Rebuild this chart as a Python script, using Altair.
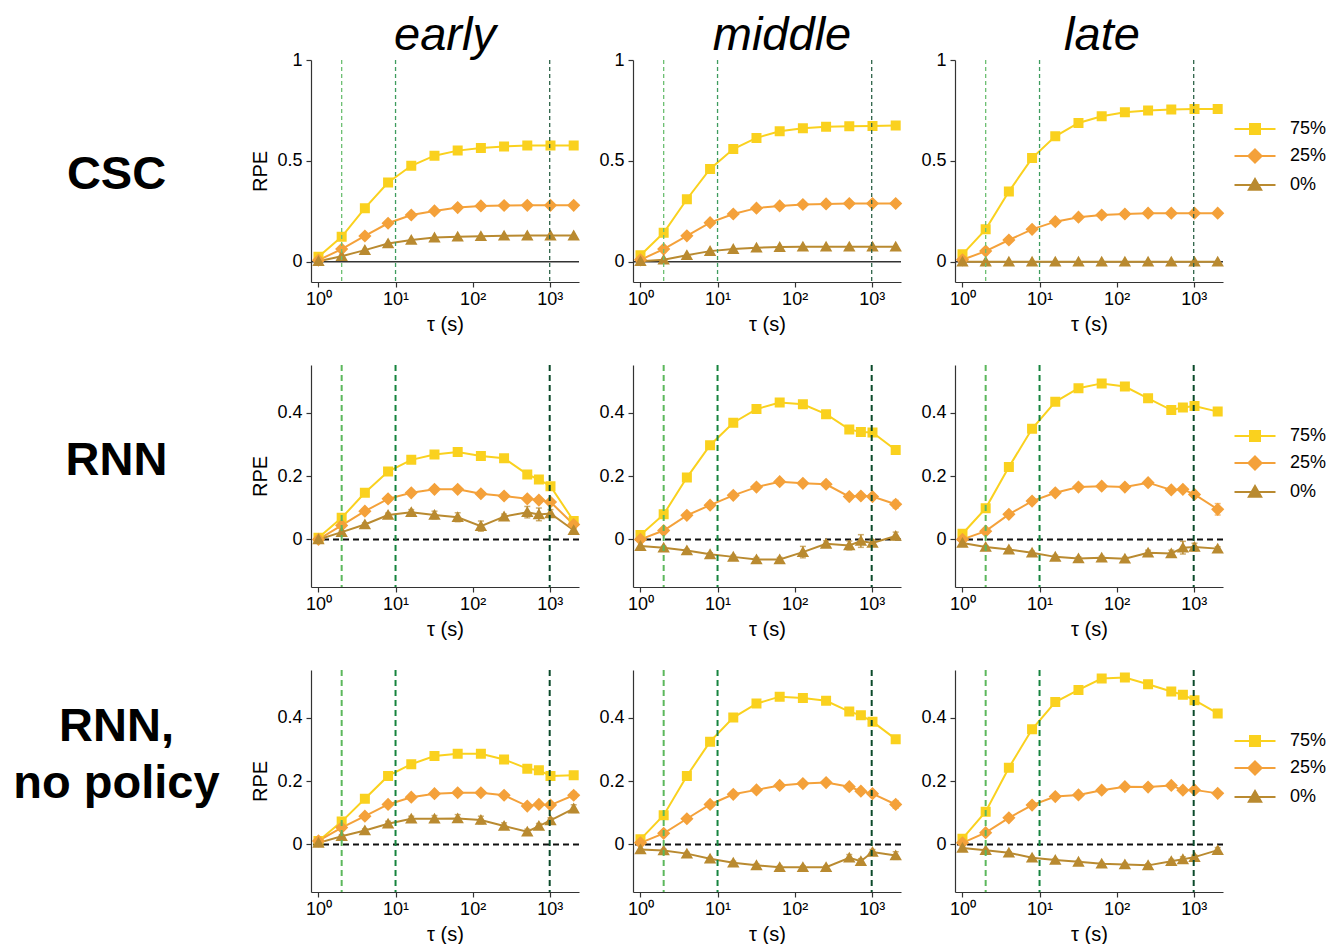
import altair as alt
import pandas as pd

FONT = "Liberation Sans"

TAU_CSC = [1, 2, 4, 8, 16, 32, 64, 128, 256, 512, 1024, 2048]
TAU_RNN = [1, 2, 4, 8, 16, 32, 64, 128, 256, 512, 724, 1024, 2048]
SERIES = ["75%", "25%", "0%"]
COLORS = ["#FAD11E", "#F4A13A", "#B98A30"]
COLUMNS = ["early", "middle", "late"]
ROW_LABELS = ["CSC", "RNN", "RNN,\nno policy"]
VLINE_TAU = [2, 10, 1000]

# ---- CSC row ----
CSC_EARLY_75 = [0.025, 0.124, 0.266, 0.393, 0.476, 0.526, 0.551, 0.564, 0.572, 0.576, 0.576, 0.576]
CSC_EARLY_25 = [0.008, 0.063, 0.128, 0.191, 0.232, 0.252, 0.269, 0.277, 0.279, 0.280, 0.280, 0.280]
CSC_EARLY_0 = [0.003, 0.028, 0.058, 0.091, 0.108, 0.120, 0.124, 0.127, 0.129, 0.130, 0.130, 0.130]
CSC_MIDDLE_75 = [0.033, 0.144, 0.310, 0.460, 0.559, 0.614, 0.647, 0.662, 0.669, 0.672, 0.673, 0.675]
CSC_MIDDLE_25 = [0.010, 0.063, 0.129, 0.194, 0.237, 0.266, 0.277, 0.284, 0.287, 0.289, 0.289, 0.289]
CSC_MIDDLE_0 = [0.003, 0.010, 0.033, 0.053, 0.063, 0.070, 0.073, 0.075, 0.075, 0.075, 0.075, 0.075]
CSC_LATE_75 = [0.037, 0.161, 0.348, 0.514, 0.622, 0.688, 0.721, 0.741, 0.750, 0.755, 0.757, 0.757]
CSC_LATE_25 = [0.010, 0.053, 0.108, 0.161, 0.199, 0.221, 0.232, 0.237, 0.241, 0.241, 0.241, 0.241]
CSC_LATE_0 = [0.0, 0.0, 0.0, 0.0, 0.0, 0.0, 0.0, 0.0, 0.0, 0.0, 0.0, 0.0]

# ---- RNN row ----
RNN_EARLY_75 = [0.005, 0.068, 0.147, 0.214, 0.251, 0.268, 0.276, 0.263, 0.256, 0.205, 0.189, 0.168, 0.058]
RNN_EARLY_25 = [0.000, 0.044, 0.089, 0.128, 0.147, 0.158, 0.158, 0.144, 0.137, 0.128, 0.124, 0.118, 0.047]
RNN_EARLY_0 = [0.000, 0.023, 0.047, 0.077, 0.086, 0.077, 0.070, 0.042, 0.072, 0.086, 0.079, 0.082, 0.029]
RNN_EARLY_0_ERR = [0.0, 0.004, 0.005, 0.006, 0.008, 0.012, 0.014, 0.016, 0.008, 0.018, 0.020, 0.012, 0.006]
RNN_MIDDLE_75 = [0.014, 0.079, 0.195, 0.297, 0.368, 0.411, 0.432, 0.426, 0.395, 0.347, 0.339, 0.337, 0.282]
RNN_MIDDLE_25 = [0.000, 0.028, 0.076, 0.108, 0.139, 0.165, 0.182, 0.177, 0.174, 0.135, 0.137, 0.135, 0.111]
RNN_MIDDLE_25_ERR = [0.0, 0.0, 0.0, 0.0, 0.0, 0.0, 0.0, 0.0, 0.0, 0.006, 0.006, 0.006, 0.012]
RNN_MIDDLE_0 = [-0.021, -0.026, -0.035, -0.047, -0.055, -0.063, -0.063, -0.040, -0.014, -0.019, -0.005, -0.011, 0.011]
RNN_MIDDLE_0_ERR = [0.0, 0.004, 0.004, 0.005, 0.005, 0.006, 0.006, 0.018, 0.010, 0.014, 0.020, 0.010, 0.012]
RNN_LATE_75 = [0.018, 0.098, 0.228, 0.349, 0.434, 0.477, 0.492, 0.482, 0.445, 0.408, 0.416, 0.421, 0.403]
RNN_LATE_25 = [0.000, 0.026, 0.079, 0.121, 0.147, 0.165, 0.168, 0.165, 0.179, 0.156, 0.158, 0.142, 0.095]
RNN_LATE_25_ERR = [0.0, 0.0, 0.0, 0.0, 0.0, 0.0, 0.0, 0.0, 0.0, 0.006, 0.006, 0.008, 0.018]
RNN_LATE_0 = [-0.011, -0.024, -0.032, -0.042, -0.055, -0.060, -0.058, -0.061, -0.042, -0.044, -0.026, -0.024, -0.029]
RNN_LATE_0_ERR = [0.0, 0.004, 0.004, 0.005, 0.005, 0.005, 0.005, 0.005, 0.008, 0.010, 0.020, 0.012, 0.006]

# ---- RNN, no policy row ----
NOPOL_EARLY_75 = [0.011, 0.072, 0.144, 0.216, 0.253, 0.279, 0.286, 0.286, 0.268, 0.239, 0.234, 0.216, 0.218]
NOPOL_EARLY_25 = [0.011, 0.053, 0.089, 0.126, 0.149, 0.160, 0.163, 0.163, 0.155, 0.121, 0.126, 0.124, 0.155]
NOPOL_EARLY_25_ERR = [0.0, 0.0, 0.0, 0.0, 0.0, 0.0, 0.0, 0.0, 0.0, 0.006, 0.006, 0.006, 0.010]
NOPOL_EARLY_0 = [0.005, 0.026, 0.044, 0.065, 0.081, 0.081, 0.082, 0.077, 0.058, 0.040, 0.058, 0.076, 0.113]
NOPOL_EARLY_0_ERR = [0.0, 0.004, 0.005, 0.008, 0.008, 0.010, 0.012, 0.012, 0.010, 0.008, 0.008, 0.008, 0.012]
NOPOL_MIDDLE_75 = [0.016, 0.092, 0.216, 0.324, 0.400, 0.444, 0.466, 0.462, 0.453, 0.419, 0.407, 0.387, 0.332]
NOPOL_MIDDLE_25 = [0.005, 0.035, 0.081, 0.126, 0.158, 0.172, 0.186, 0.192, 0.195, 0.182, 0.168, 0.160, 0.126]
NOPOL_MIDDLE_25_ERR = [0.0, 0.0, 0.0, 0.0, 0.0, 0.0, 0.0, 0.0, 0.0, 0.006, 0.006, 0.006, 0.012]
NOPOL_MIDDLE_0 = [-0.016, -0.019, -0.029, -0.045, -0.058, -0.066, -0.072, -0.072, -0.072, -0.042, -0.053, -0.024, -0.035]
NOPOL_MIDDLE_0_ERR = [0.0, 0.004, 0.004, 0.004, 0.005, 0.005, 0.005, 0.005, 0.005, 0.010, 0.008, 0.008, 0.012]
NOPOL_LATE_75 = [0.018, 0.103, 0.242, 0.363, 0.449, 0.487, 0.523, 0.526, 0.505, 0.482, 0.472, 0.455, 0.413]
NOPOL_LATE_25 = [0.005, 0.037, 0.084, 0.124, 0.151, 0.156, 0.171, 0.182, 0.181, 0.186, 0.171, 0.172, 0.161]
NOPOL_LATE_0 = [-0.011, -0.018, -0.026, -0.042, -0.049, -0.055, -0.061, -0.063, -0.066, -0.053, -0.047, -0.040, -0.018]
NOPOL_LATE_0_ERR = [0.0, 0.003, 0.003, 0.004, 0.004, 0.004, 0.004, 0.004, 0.005, 0.006, 0.008, 0.006, 0.008]

PANELS = [
    [(TAU_CSC, [CSC_EARLY_75, CSC_EARLY_25, CSC_EARLY_0], [None, None, None]),
     (TAU_CSC, [CSC_MIDDLE_75, CSC_MIDDLE_25, CSC_MIDDLE_0], [None, None, None]),
     (TAU_CSC, [CSC_LATE_75, CSC_LATE_25, CSC_LATE_0], [None, None, None])],
    [(TAU_RNN, [RNN_EARLY_75, RNN_EARLY_25, RNN_EARLY_0], [None, None, RNN_EARLY_0_ERR]),
     (TAU_RNN, [RNN_MIDDLE_75, RNN_MIDDLE_25, RNN_MIDDLE_0], [None, RNN_MIDDLE_25_ERR, RNN_MIDDLE_0_ERR]),
     (TAU_RNN, [RNN_LATE_75, RNN_LATE_25, RNN_LATE_0], [None, RNN_LATE_25_ERR, RNN_LATE_0_ERR])],
    [(TAU_RNN, [NOPOL_EARLY_75, NOPOL_EARLY_25, NOPOL_EARLY_0], [None, NOPOL_EARLY_25_ERR, NOPOL_EARLY_0_ERR]),
     (TAU_RNN, [NOPOL_MIDDLE_75, NOPOL_MIDDLE_25, NOPOL_MIDDLE_0], [None, NOPOL_MIDDLE_25_ERR, NOPOL_MIDDLE_0_ERR]),
     (TAU_RNN, [NOPOL_LATE_75, NOPOL_LATE_25, NOPOL_LATE_0], [None, None, NOPOL_LATE_0_ERR])],
]

Y_DOMAINS = [[-0.1, 1.0], [-0.15, 0.55], [-0.15, 0.55]]
Y_TICKS = [[0, 0.5, 1], [0, 0.2, 0.4], [0, 0.2, 0.4]]

# ---- styling ----
PW, PH = 268, 222
VLINE_COLORS = [["#6CBF72", "#3E9C5E", "#2E6348"],
                ["#5CB85C", "#16843E", "#0B4A2A"],
                ["#5CB85C", "#16843E", "#0B4A2A"]]
TITLE_DX = [0, 15, 13]
LABEL_DY = [4, -15, -54]
LEGEND_Y = [58, 60, 60]

# marker paths: a horizontal stub (only visible where a stroke is drawn, i.e. in
# the legend) plus the filled marker itself
MARKER_PATHS = [
    "M-2.05,0H2.05M-0.5,-0.5H0.5V0.5H-0.5Z",
    "M-2.05,0H2.05M0,-0.66L0.66,0L0,0.66L-0.66,0Z",
    "M-2.05,0H2.05M0,-0.6L0.62,0.48L-0.62,0.48Z",
]


def pick_expr(values):
    return ("datum.value === '" + SERIES[0] + "' ? '" + values[0] + "' : datum.value === '"
            + SERIES[1] + "' ? '" + values[1] + "' : '" + values[2] + "'")


def make_legend(row):
    return alt.Legend(
        title=None, orient="none", legendX=289, legendY=LEGEND_Y[row],
        labelFont=FONT, labelFontSize=18, labelColor="black",
        symbolSize=400, rowPadding=7, labelOffset=24,
        symbolStrokeWidth=2, symbolOpacity=1,
        symbolStrokeColor={"expr": pick_expr(COLORS)})


def panel(row, col):
    tau, vals, errs = PANELS[row][col]
    recs = []
    for s, v, e in zip(SERIES, vals, errs):
        for i, (t, y) in enumerate(zip(tau, v)):
            err = e[i] if e is not None else 0.0
            recs.append({"tau": t, "rpe": y, "series": s,
                         "lo": y - err, "hi": y + err, "err": err})
    df = pd.DataFrame(recs)

    legend = make_legend(row) if col == 2 else None
    x_axis = alt.Axis(values=[1, 10, 100, 1000], title="τ (s)",
                      labelExpr="datum.value == 1 ? '10⁰' : datum.value == 10 ? '10¹' : datum.value == 100 ? '10²' : '10³'",
                      labelPadding=3, titlePadding=6)
    y_axis = alt.Axis(values=Y_TICKS[row], format="~g",
                      title="RPE" if col == 0 else None,
                      labelPadding=4, titlePadding=6)
    xs = alt.Scale(type="log", domain=[0.8, 2400])
    ys = alt.Scale(domain=Y_DOMAINS[row], nice=False, zero=False)
    X = alt.X("tau:Q", scale=xs, axis=x_axis)
    Y = alt.Y("rpe:Q", scale=ys, axis=y_axis)
    C = alt.Color("series:N", scale=alt.Scale(domain=SERIES, range=COLORS), legend=legend)
    S = alt.Shape("series:N", scale=alt.Scale(domain=SERIES, range=MARKER_PATHS), legend=None)

    base = alt.Chart(df)
    if row == 0:
        zero = alt.Chart(pd.DataFrame({"rpe": [0.0]})).mark_rule(
            color="#333333", strokeWidth=1.5).encode(y=alt.Y("rpe:Q", scale=ys, axis=y_axis))
    else:
        zero = alt.Chart(pd.DataFrame({"rpe": [0.0]})).mark_rule(
            color="#111111", strokeWidth=2, strokeDash=[6, 4]).encode(y=alt.Y("rpe:Q", scale=ys, axis=y_axis))

    lines = base.mark_line(strokeWidth=2).encode(x=X, y=Y, color=C, detail="series:N")
    errbars = base.transform_filter("datum.err > 0").mark_errorbar(
        ticks=True, size=6, thickness=1.5).encode(
        x=X, y=alt.Y("lo:Q", scale=ys, axis=y_axis), y2="hi:Q", color=C)
    points = base.mark_point(filled=True, opacity=1, size=400).encode(
        x=X, y=Y, color=C, shape=S)

    vlayers = []
    for t, c in zip(VLINE_TAU, VLINE_COLORS[row]):
        w = 1.3 if row == 0 else 2
        dash = [4, 3] if row == 0 else [6, 4]
        vlayers.append(alt.Chart(pd.DataFrame({"tau": [t]})).mark_rule(
            color=c, strokeWidth=w, strokeDash=dash).encode(x=alt.X("tau:Q", scale=xs, axis=x_axis)))

    layers = [zero, lines]
    if row > 0:
        layers.append(errbars)
    layers.append(points)
    layers += vlayers
    if row == 0:
        layers.append(alt.Chart(pd.DataFrame({"name": [COLUMNS[col]]})).mark_text(
            font=FONT, fontSize=47, fontStyle="italic", color="black",
            baseline="alphabetic", align="center", y=-10, dx=TITLE_DX[col]).encode(text="name:N"))
    return alt.layer(*layers).properties(width=PW, height=PH)


def label_chart(row):
    return alt.Chart(pd.DataFrame({"label": [ROW_LABELS[row]]})).mark_text(
        font=FONT, fontSize=47, fontWeight="bold", color="black",
        lineBreak="\n", lineHeight=57, dx=-16, dy=LABEL_DY[row], baseline="middle").encode(
        text="label:N").properties(width=249, height=PH)


cells = []
for r in range(3):
    cells.append(label_chart(r))
    for c in range(3):
        cells.append(panel(r, c))

chart = alt.concat(*cells, columns=4, spacing={"row": 83, "column": 54},
                   bounds="flush", align="each").resolve_scale(
    color="independent", shape="independent",
    x="independent", y="independent"
).properties(padding={"left": 0, "top": 4, "right": 0, "bottom": 0}).configure_view(
    stroke=None
).configure_axis(
    labelFont=FONT, labelFontSize=18, labelColor="black",
    titleFont=FONT, titleFontSize=20, titleFontWeight="normal", titleColor="black",
    domainColor="#333333", tickColor="#333333", tickSize=5, grid=False,
    domainWidth=1.2, tickWidth=1.2
)

chart.save("out.html", embed_options={"renderer": "svg", "actions": False})
